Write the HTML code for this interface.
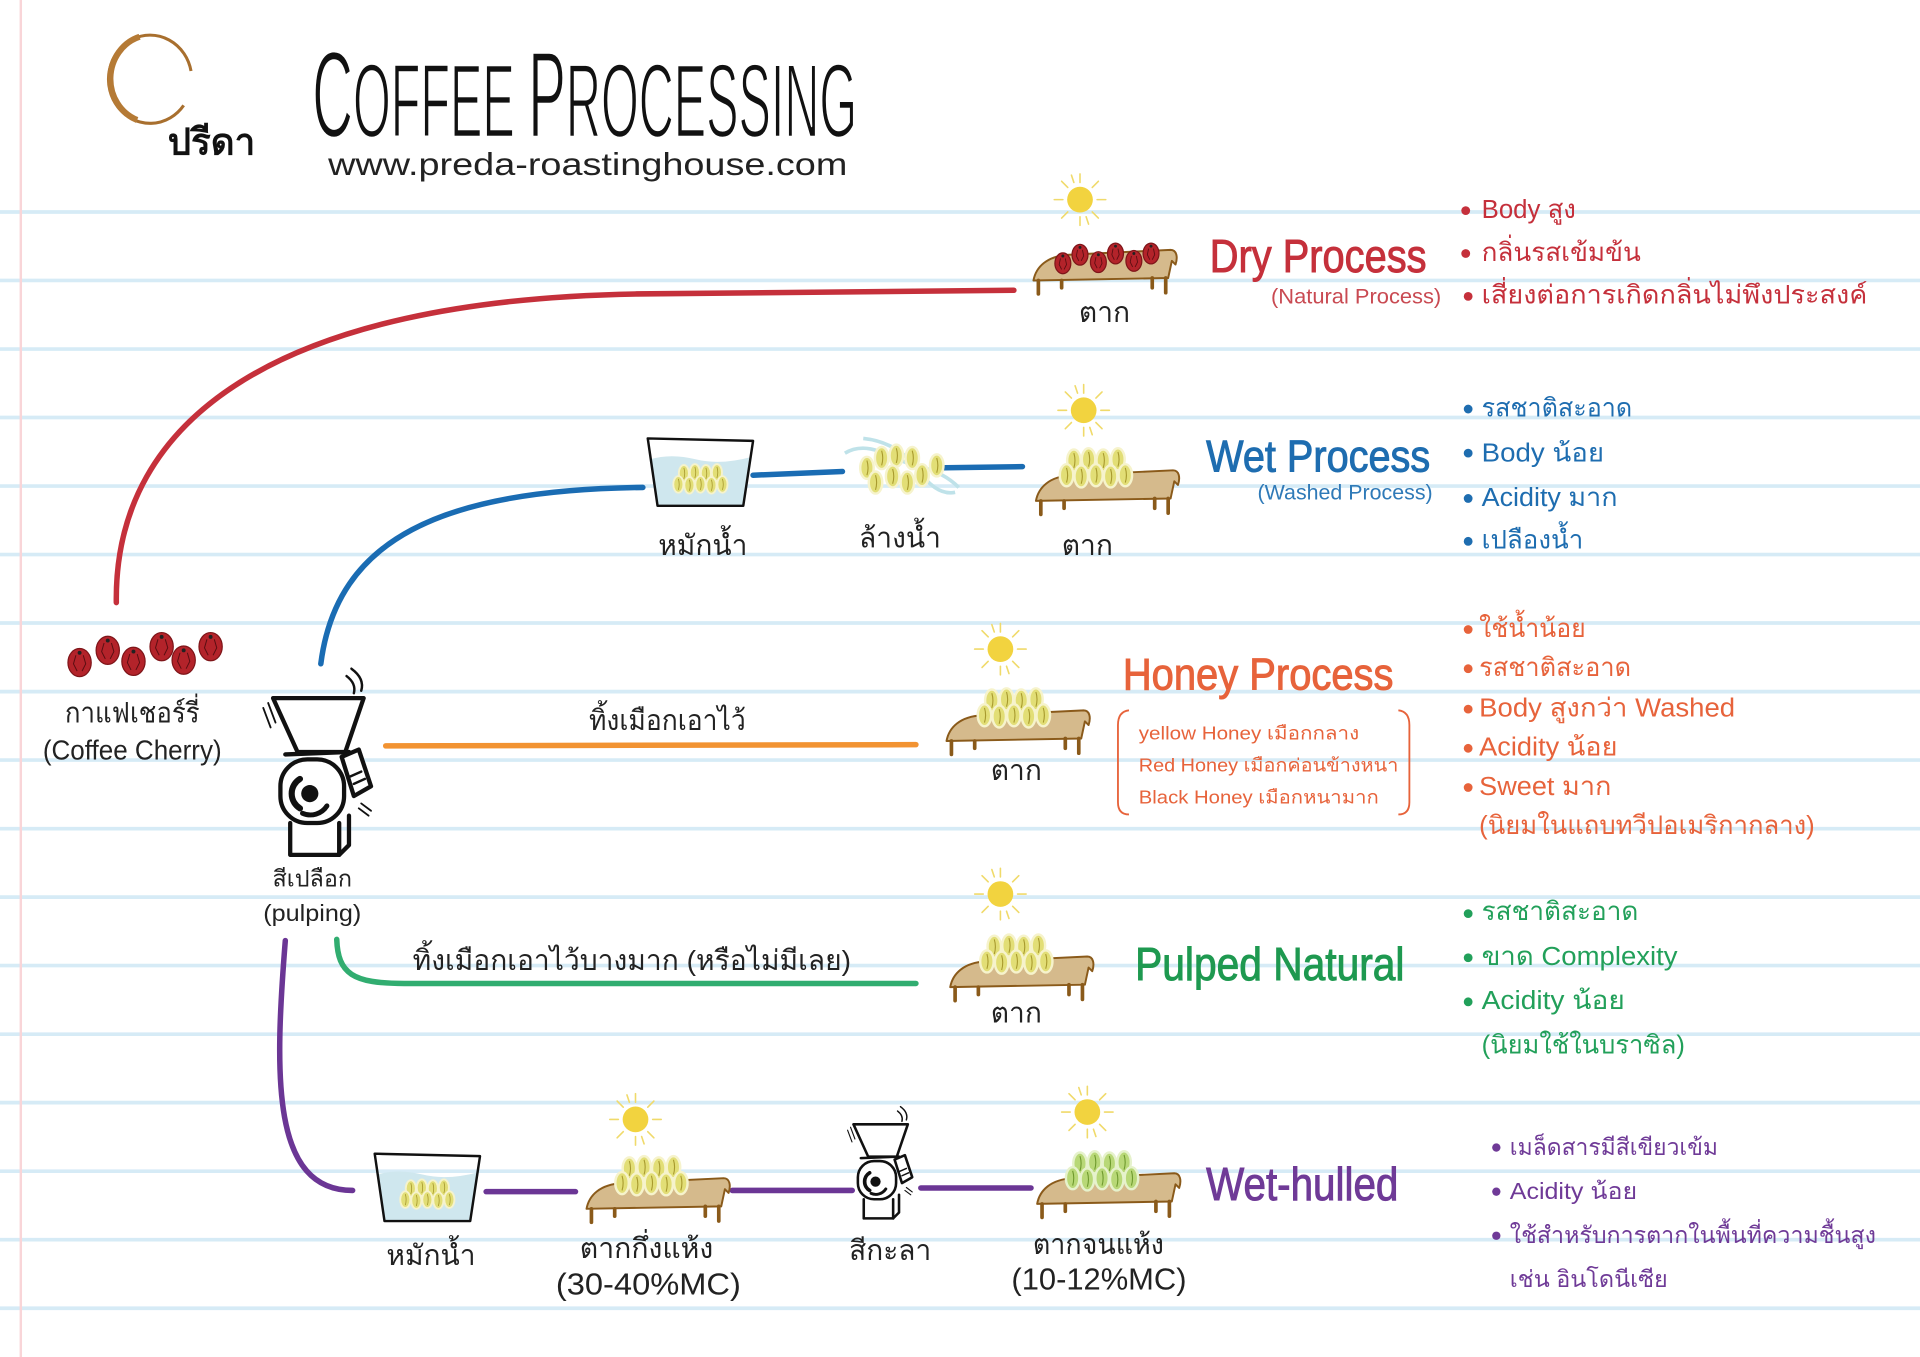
<!DOCTYPE html>
<html>
<head>
<meta charset="utf-8">
<style>
html,body{margin:0;padding:0;background:#fff;overflow:hidden;}
svg{display:block;}
text{font-family:"Liberation Sans","Noto Sans CJK SC",sans-serif;}
.hw{font-family:"Liberation Sans Narrow","Liberation Sans",sans-serif;}
</style>
</head>
<body>
<svg width="1920" height="1357" viewBox="0 0 1568 1108" preserveAspectRatio="none" xmlns="http://www.w3.org/2000/svg">
<defs>
  <g id="sun">
    <circle r="10.5" fill="#f2d33f"/>
    <g stroke="#f0da6a" stroke-width="1.3" stroke-linecap="round">
      <line x1="14" y1="0" x2="21" y2="0"/><line x1="-14" y1="0" x2="-21" y2="0"/>
      <line x1="0" y1="14" x2="0" y2="21"/><line x1="0" y1="-14" x2="0" y2="-21"/>
      <line x1="10" y1="10" x2="15" y2="15"/><line x1="-10" y1="10" x2="-15" y2="15"/>
      <line x1="10" y1="-10" x2="15" y2="-15"/><line x1="-10" y1="-10" x2="-15" y2="-15"/>
      <line x1="5" y1="14" x2="7" y2="20"/><line x1="-5" y1="-14" x2="-7" y2="-20"/>
    </g>
  </g>
  <g id="table">
    <path d="M1,31 C3,20 12,11 30,10 L113,6 C118,6 119,12 117,18 L114,15 L111,29 Z" fill="#d5ba8c" stroke="#8a5a1a" stroke-width="1.6" stroke-linejoin="round"/>
    <g stroke="#8a5a1a" stroke-width="3" stroke-linecap="round">
      <line x1="5" y1="31" x2="5" y2="42"/><line x1="24" y1="31" x2="24" y2="37"/>
      <line x1="98" y1="29" x2="98" y2="37"/><line x1="109" y1="29" x2="109" y2="41"/>
    </g>
  </g>
  <g id="bean">
    <ellipse rx="5.5" ry="9" fill="#e2de76" stroke="#f6f3cc" stroke-width="2"/>
    <path d="M0,-6 Q1.8,0 0,6" stroke="#a89a2e" stroke-width="0.9" fill="none"/>
  </g>
  <g id="gbean">
    <ellipse rx="5.5" ry="9" fill="#b8d877" stroke="#e6f2cc" stroke-width="2"/>
    <path d="M0,-6 Q1.8,0 0,6" stroke="#6f9a2e" stroke-width="0.9" fill="none"/>
  </g>
  <g id="beans">
    <use href="#bean" x="-18" y="-10"/><use href="#bean" x="-6" y="-11"/><use href="#bean" x="6" y="-10"/><use href="#bean" x="18" y="-11"/>
    <use href="#bean" x="-24" y="2"/><use href="#bean" x="-12" y="3"/><use href="#bean" x="0" y="2"/><use href="#bean" x="12" y="3"/><use href="#bean" x="24" y="2"/>
  </g>
  <g id="gbeans">
    <use href="#gbean" x="-18" y="-10"/><use href="#gbean" x="-6" y="-11"/><use href="#gbean" x="6" y="-10"/><use href="#gbean" x="18" y="-11"/>
    <use href="#gbean" x="-24" y="2"/><use href="#gbean" x="-12" y="3"/><use href="#gbean" x="0" y="2"/><use href="#gbean" x="12" y="3"/><use href="#gbean" x="24" y="2"/>
  </g>
  <g id="tank">
    <path d="M3,17 Q20,12 40,17 T86,15 L79,55 L9,55 Z" fill="#cfe7ee"/>
    <path d="M1,0 L87,2 L79,55 L9,55 Z" fill="none" stroke="#111" stroke-width="2" stroke-linejoin="round"/>
    <g transform="translate(44,36) scale(0.75)"><use href="#beans"/></g>
  </g>
  <g id="cherry">
    <ellipse rx="9.5" ry="11.5" fill="#b3232a" stroke="#7e1519" stroke-width="1"/>
    <path d="M-3,-6 L-5,1 L-2,7 M3,-6 L5,1 L2,7" stroke="#5a0e12" stroke-width="0.8" fill="none"/>
    <circle cx="0" cy="-8" r="1.6" fill="#222"/>
  </g>
  <g id="scherry">
    <ellipse rx="6.5" ry="8.5" fill="#b3232a" stroke="#7e1519" stroke-width="1"/>
    <path d="M-2,-4 L-3,1 L-1,5 M2,-4 L3,1 L1,5" stroke="#5a0e12" stroke-width="0.7" fill="none"/>
    <circle cx="0" cy="-6" r="1.2" fill="#222"/>
  </g>
  <g id="pulper" fill="none" stroke="#111" stroke-width="3.5" stroke-linejoin="round" stroke-linecap="round">
    <polygon points="0,0 74,0 59,44 20,44" fill="#fff"/>
    <path d="M10,46 L62,44 L64,58" fill="#fff"/>
    <path d="M14,102 L14,128 L54,128 L54,102" fill="#fff"/>
    <path d="M54,128 L62,120 L62,96"/>
    <rect x="6" y="50" width="52" height="52" rx="22" fill="#fff"/>
    <path d="M22,66 A14,14 0 0 0 22,90" stroke-width="5"/>
    <path d="M24,94 A16,16 0 0 0 44,88" stroke-width="4"/>
    <circle cx="30" cy="78" r="7" fill="#111" stroke="none"/>
    <polygon points="56,48 70,42 80,72 66,80" fill="#fff"/>
    <path d="M63,64 L72,60 M66,70 L75,66" stroke-width="2"/>
    <path d="M60,-18 Q68,-12 66,-4 M64,-24 Q75,-16 72,-6" stroke-width="2"/>
    <path d="M-8,8 L-2,24 M-4,4 L2,20" stroke-width="1.5"/>
    <path d="M72,86 L80,92 M70,90 L78,96" stroke-width="1.5"/>
  </g>
</defs>

<rect width="1568" height="1108" fill="#fff"/>
<!-- ruled lines -->
<g stroke="#d6ebf6" stroke-width="3">
  <line x1="0" y1="173.1" x2="1568" y2="173.1"/><line x1="0" y1="229.0" x2="1568" y2="229.0"/>
  <line x1="0" y1="285.0" x2="1568" y2="285.0"/><line x1="0" y1="340.9" x2="1568" y2="340.9"/>
  <line x1="0" y1="396.9" x2="1568" y2="396.9"/><line x1="0" y1="452.8" x2="1568" y2="452.8"/>
  <line x1="0" y1="508.7" x2="1568" y2="508.7"/><line x1="0" y1="564.7" x2="1568" y2="564.7"/>
  <line x1="0" y1="620.6" x2="1568" y2="620.6"/><line x1="0" y1="676.6" x2="1568" y2="676.6"/>
  <line x1="0" y1="732.5" x2="1568" y2="732.5"/><line x1="0" y1="788.4" x2="1568" y2="788.4"/>
  <line x1="0" y1="844.4" x2="1568" y2="844.4"/><line x1="0" y1="900.3" x2="1568" y2="900.3"/>
  <line x1="0" y1="956.3" x2="1568" y2="956.3"/><line x1="0" y1="1012.2" x2="1568" y2="1012.2"/>
  <line x1="0" y1="1068.2" x2="1568" y2="1068.2"/>
</g>
<line x1="17" y1="0" x2="17" y2="1108" stroke="#f9d5d8" stroke-width="2"/>

<!-- logo -->
<path d="M150,86 A34,36 0 1 1 156,58" fill="none" stroke="#a86f2e" stroke-width="2.5"/>
<path d="M114,30 A34,36 0 0 0 112,98" fill="none" stroke="#b57a35" stroke-width="5"/>
<text x="137" y="126" font-size="30" font-weight="bold" fill="#111">ปรีดา</text>

<!-- title -->
<text class="hw" x="255" y="112" font-size="100" fill="#111" stroke="#fff" stroke-width="2" textLength="445" lengthAdjust="spacingAndGlyphs">C<tspan font-size="86">OFFEE </tspan>P<tspan font-size="86">ROCESSING</tspan></text>
<text x="268" y="143" font-size="26" fill="#222" textLength="424" lengthAdjust="spacingAndGlyphs">www.preda-roastinghouse.com</text>

<!-- connectors -->
<g fill="none" stroke-width="4.5" stroke-linecap="round">
  <path d="M95,492 C93,340 230,245 520,240 L828,237" stroke="#c5303b"/>
  <path d="M262,542 C275,440 360,400 525,398" stroke="#1a6cb3"/>
  <path d="M615,388 L688,385 M765,382 L835,381" stroke="#1a6cb3"/>
  <path d="M315,609 L748,608" stroke="#f29332"/>
  <path d="M275,767 C276,795 288,803 330,803 L748,803" stroke="#31ad70"/>
  <path d="M233,768 C224,880 222,972 288,972" stroke="#6b3695"/>
  <path d="M397,973 L470,973 M598,972 L696,972 M752,970 L842,970" stroke="#6b3695"/>
</g>

<!-- cherries -->
<use href="#cherry" x="65" y="541"/><use href="#cherry" x="88" y="531"/><use href="#cherry" x="109" y="540"/>
<use href="#cherry" x="132" y="528"/><use href="#cherry" x="150" y="539"/><use href="#cherry" x="172" y="528"/>
<text x="108" y="590" font-size="23" text-anchor="middle" fill="#222" textLength="110" lengthAdjust="spacingAndGlyphs">กาแฟเชอร์รี่</text>
<text x="35" y="620" font-size="23" fill="#222" textLength="146" lengthAdjust="spacingAndGlyphs">(Coffee Cherry)</text>

<!-- big pulper -->
<g transform="translate(223,570)"><use href="#pulper"/></g>
<text x="255" y="724" font-size="19" text-anchor="middle" fill="#222" textLength="65" lengthAdjust="spacingAndGlyphs">สีเปลือก</text>
<text x="215" y="752" font-size="19" fill="#222" textLength="80" lengthAdjust="spacingAndGlyphs">(pulping)</text>

<!-- DRY -->
<use href="#sun" x="882" y="163"/>
<g transform="translate(843,198)"><use href="#table"/></g>
<use href="#scherry" x="868" y="215"/><use href="#scherry" x="882" y="208"/><use href="#scherry" x="897" y="214"/>
<use href="#scherry" x="911" y="207"/><use href="#scherry" x="926" y="213"/><use href="#scherry" x="940" y="207"/>
<text x="902" y="263" font-size="23" text-anchor="middle" fill="#222">ตาก</text>
<text class="hw" x="988" y="222" font-size="38" fill="#c5303b" stroke="#c5303b" stroke-width="0.8" textLength="177" lengthAdjust="spacingAndGlyphs">Dry Process</text>
<text x="1038" y="248" font-size="17" fill="#c94a52" textLength="139" lengthAdjust="spacingAndGlyphs">(Natural Process)</text>
<g fill="#c5303b">
  <circle cx="1197" cy="172" r="3.6"/><circle cx="1197" cy="207" r="3.6"/><circle cx="1199" cy="242" r="3.6"/>
</g>
<g fill="#c5303b" font-size="21">
  <text x="1210" y="178" textLength="77" lengthAdjust="spacingAndGlyphs">Body สูง</text>
  <text x="1210" y="213" textLength="130" lengthAdjust="spacingAndGlyphs">กลิ่นรสเข้มข้น</text>
  <text x="1210" y="248" textLength="315" lengthAdjust="spacingAndGlyphs">เสี่ยงต่อการเกิดกลิ่นไม่พึงประสงค์</text>
</g>

<!-- WET -->
<g transform="translate(528,358)"><use href="#tank"/></g>
<g transform="translate(735,384)">
  <path d="M-45,-14 C-25,-26 -5,-8 12,-4 C30,0 40,6 48,14" fill="none" stroke="#bfe2e9" stroke-width="3"/>
  <path d="M-30,-26 C-10,-24 5,-14 15,0 C25,14 35,20 45,18" fill="none" stroke="#bfe2e9" stroke-width="3"/>
  <use href="#bean" x="-27" y="-2"/><use href="#bean" x="-15" y="-10"/><use href="#bean" x="-3" y="-12"/><use href="#bean" x="10" y="-10"/>
  <use href="#bean" x="-20" y="10"/><use href="#bean" x="-6" y="5"/><use href="#bean" x="6" y="10"/><use href="#bean" x="18" y="4"/><use href="#bean" x="30" y="-4"/>
</g>
<use href="#sun" x="885" y="335"/>
<g transform="translate(845,378)"><use href="#table"/></g>
<use href="#beans" x="895" y="386"/>
<text x="574" y="453" font-size="23" text-anchor="middle" fill="#222">หมักน้ำ</text>
<text x="735" y="447" font-size="23" text-anchor="middle" fill="#222">ล้างน้ำ</text>
<text x="888" y="453" font-size="23" text-anchor="middle" fill="#222">ตาก</text>
<text class="hw" x="985" y="385" font-size="36" fill="#1e6db0" stroke="#1e6db0" stroke-width="0.8" textLength="183" lengthAdjust="spacingAndGlyphs">Wet Process</text>
<text x="1027" y="408" font-size="17" fill="#2f7ab8" textLength="143" lengthAdjust="spacingAndGlyphs">(Washed Process)</text>
<g fill="#1e6db0">
  <circle cx="1199" cy="334" r="3.6"/><circle cx="1199" cy="370" r="3.6"/><circle cx="1199" cy="407" r="3.6"/><circle cx="1199" cy="442" r="3.6"/>
</g>
<g fill="#1e6db0" font-size="21">
  <text x="1210" y="340" textLength="123" lengthAdjust="spacingAndGlyphs">รสชาติสะอาด</text>
  <text x="1210" y="377" textLength="100" lengthAdjust="spacingAndGlyphs">Body น้อย</text>
  <text x="1210" y="413" textLength="111" lengthAdjust="spacingAndGlyphs">Acidity มาก</text>
  <text x="1210" y="448" textLength="83" lengthAdjust="spacingAndGlyphs">เปลืองน้ำ</text>
</g>

<!-- HONEY -->
<text x="545" y="596" font-size="23" text-anchor="middle" fill="#222" textLength="128" lengthAdjust="spacingAndGlyphs">ทิ้งเมือกเอาไว้</text>
<use href="#sun" x="817" y="530"/>
<g transform="translate(772,574)"><use href="#table"/></g>
<use href="#beans" x="828" y="582"/>
<text x="830" y="637" font-size="23" text-anchor="middle" fill="#222">ตาก</text>
<text class="hw" x="917" y="563" font-size="36" fill="#e7633b" stroke="#e7633b" stroke-width="0.8" textLength="221" lengthAdjust="spacingAndGlyphs">Honey Process</text>
<path d="M922,580 Q913,581 913,592 L913,655 Q913,665 922,665 M1142,580 Q1151,581 1151,592 L1151,655 Q1151,665 1142,665" fill="none" stroke="#e7633b" stroke-width="1.5"/>
<g fill="#e7633b" font-size="15">
  <text x="930" y="604" textLength="180" lengthAdjust="spacingAndGlyphs">yellow Honey เมือกกลาง</text>
  <text x="930" y="630" textLength="212" lengthAdjust="spacingAndGlyphs">Red Honey เมือกค่อนข้างหนา</text>
  <text x="930" y="656" textLength="196" lengthAdjust="spacingAndGlyphs">Black Honey เมือกหนามาก</text>
</g>
<g fill="#e7633b">
  <circle cx="1199" cy="514" r="3.6"/><circle cx="1199" cy="546" r="3.6"/><circle cx="1199" cy="579" r="3.6"/>
  <circle cx="1199" cy="611" r="3.6"/><circle cx="1199" cy="643" r="3.6"/>
</g>
<g fill="#e7633b" font-size="21">
  <text x="1208" y="520" textLength="87" lengthAdjust="spacingAndGlyphs">ใช้น้ำน้อย</text>
  <text x="1208" y="552" textLength="124" lengthAdjust="spacingAndGlyphs">รสชาติสะอาด</text>
  <text x="1208" y="585" textLength="209" lengthAdjust="spacingAndGlyphs">Body สูงกว่า Washed</text>
  <text x="1208" y="617" textLength="113" lengthAdjust="spacingAndGlyphs">Acidity น้อย</text>
  <text x="1208" y="649" textLength="108" lengthAdjust="spacingAndGlyphs">Sweet มาก</text>
  <text x="1208" y="681" textLength="274" lengthAdjust="spacingAndGlyphs">(นิยมในแถบทวีปอเมริกากลาง)</text>
</g>

<!-- PULPED NATURAL -->
<text x="337" y="792" font-size="23" fill="#222" textLength="358" lengthAdjust="spacingAndGlyphs">ทิ้งเมือกเอาไว้บางมาก (หรือไม่มีเลย)</text>
<use href="#sun" x="817" y="730"/>
<g transform="translate(775,775)"><use href="#table"/></g>
<use href="#beans" x="830" y="783"/>
<text x="830" y="835" font-size="23" text-anchor="middle" fill="#222">ตาก</text>
<text class="hw" x="927" y="800" font-size="38" fill="#1e9950" stroke="#1e9950" stroke-width="0.8" textLength="220" lengthAdjust="spacingAndGlyphs">Pulped Natural</text>
<g fill="#22a05a">
  <circle cx="1199" cy="746" r="3.6"/><circle cx="1199" cy="782" r="3.6"/><circle cx="1199" cy="818" r="3.6"/>
</g>
<g fill="#22a05a" font-size="21">
  <text x="1210" y="751" textLength="128" lengthAdjust="spacingAndGlyphs">รสชาติสะอาด</text>
  <text x="1210" y="788" textLength="160" lengthAdjust="spacingAndGlyphs">ขาด Complexity</text>
  <text x="1210" y="824" textLength="117" lengthAdjust="spacingAndGlyphs">Acidity น้อย</text>
  <text x="1210" y="860" textLength="166" lengthAdjust="spacingAndGlyphs">(นิยมใช้ในบราซิล)</text>
</g>

<!-- WET-HULLED -->
<g transform="translate(305,942)"><use href="#tank"/></g>
<use href="#sun" x="519" y="914"/>
<g transform="translate(478,956)"><use href="#table"/></g>
<use href="#beans" x="532" y="964"/>
<g transform="translate(697,918) scale(0.6)"><use href="#pulper"/></g>
<use href="#sun" x="888" y="908"/>
<g transform="translate(846,952)"><use href="#table"/></g>
<use href="#gbeans" x="900" y="960"/>
<text x="352" y="1033" font-size="23" text-anchor="middle" fill="#222">หมักน้ำ</text>
<text x="528" y="1027" font-size="23" text-anchor="middle" fill="#222" textLength="109" lengthAdjust="spacingAndGlyphs">ตากกึ่งแห้ง</text>
<text x="454" y="1057" font-size="25" fill="#222" textLength="151" lengthAdjust="spacingAndGlyphs">(30-40%MC)</text>
<text x="727" y="1029" font-size="23" text-anchor="middle" fill="#222" textLength="67" lengthAdjust="spacingAndGlyphs">สีกะลา</text>
<text x="897" y="1024" font-size="23" text-anchor="middle" fill="#222" textLength="107" lengthAdjust="spacingAndGlyphs">ตากจนแห้ง</text>
<text x="826" y="1053" font-size="25" fill="#222" textLength="143" lengthAdjust="spacingAndGlyphs">(10-12%MC)</text>
<text class="hw" x="985" y="980" font-size="38" fill="#6f3a97" stroke="#6f3a97" stroke-width="0.8" textLength="157" lengthAdjust="spacingAndGlyphs">Wet-hulled</text>
<g fill="#6f3a97">
  <circle cx="1222" cy="937" r="3.4"/><circle cx="1222" cy="973" r="3.4"/><circle cx="1222" cy="1009" r="3.4"/>
</g>
<g fill="#6f3a97" font-size="19">
  <text x="1233" y="943" textLength="170" lengthAdjust="spacingAndGlyphs">เมล็ดสารมีสีเขียวเข้ม</text>
  <text x="1233" y="979" textLength="104" lengthAdjust="spacingAndGlyphs">Acidity น้อย</text>
  <text x="1233" y="1015" textLength="299" lengthAdjust="spacingAndGlyphs">ใช้สำหรับการตากในพื้นที่ความชื้นสูง</text>
  <text x="1233" y="1051" textLength="129" lengthAdjust="spacingAndGlyphs">เช่น อินโดนีเซีย</text>
</g>
</svg>
</body>
</html>
